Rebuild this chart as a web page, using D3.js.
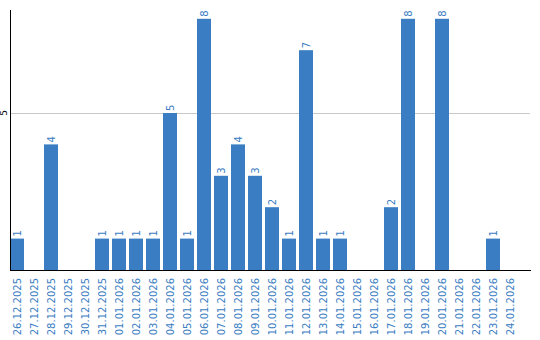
<!DOCTYPE html>
<html>
<head>
<meta charset="utf-8">
<script src="https://cdn.jsdelivr.net/npm/d3@7"></script>
<style>
  body { margin: 0; background: #fff; }
  svg { display: block; }
</style>
</head>
<body>
<svg id="chart"></svg>
<script>
const dates = ["26.12.2025", "27.12.2025", "28.12.2025", "29.12.2025", "30.12.2025", "31.12.2025",
    "01.01.2026", "02.01.2026", "03.01.2026", "04.01.2026", "05.01.2026", "06.01.2026",
    "07.01.2026", "08.01.2026", "09.01.2026", "10.01.2026", "11.01.2026", "12.01.2026",
    "13.01.2026", "14.01.2026", "15.01.2026", "16.01.2026", "17.01.2026", "18.01.2026",
    "19.01.2026", "20.01.2026", "21.01.2026", "22.01.2026", "23.01.2026", "24.01.2026"];
const counts = [1, 0, 4, 0, 0, 1, 1, 1, 1, 5, 1, 8, 3, 4, 3, 2, 1, 7, 1, 1, 0, 0, 2, 8, 0, 8, 0, 0, 1, 0];
const yTicks = [5];

const width = 540;
const height = 340;
const plotLeft = 10, plotRight = 530, plotTop = 10, plotBottom = 270;
const blue = "#3a7dc2";

const svg = d3.select("#chart")
    .attr("width", width)
    .attr("height", height)
    .style("font-family", "DejaVu Sans");

const x = d3.scaleBand()
    .domain(dates)
    .range([plotLeft, plotLeft + dates.length * 17])
    .paddingInner(3 / 17)
    .paddingOuter(1.5 / 17)
    .align(0);

const y = d3.scaleLinear()
    .domain([0, 8.28])
    .range([plotBottom, plotTop]);

const barData = counts.map((v, i) => ({ date: dates[i], v })).filter(d => d.v > 0);

// grid line at 5
svg.append("g")
    .selectAll("line")
    .data(yTicks)
    .join("line")
    .attr("x1", plotLeft)
    .attr("x2", plotRight)
    .attr("y1", d => Math.round(y(d)) + 0.5)
    .attr("y2", d => Math.round(y(d)) + 0.5)
    .attr("stroke", "#c8c8c8")
    .attr("stroke-width", 1);

svg.append("g")
    .selectAll("text")
    .data(yTicks)
    .join("text")
    .attr("transform", d => `translate(7,${y(d)}) rotate(-90)`)
    .attr("text-anchor", "middle")
    .attr("font-size", 9)
    .attr("fill", "#000")
    .text(d => d);

// bars
svg.append("g")
    .selectAll("rect")
    .data(barData)
    .join("rect")
    .attr("x", d => x(d.date))
    .attr("y", d => y(d.v))
    .attr("width", x.bandwidth())
    .attr("height", d => y(0) - y(d.v))
    .attr("fill", blue);

// value labels
svg.append("g")
    .selectAll("text")
    .data(barData)
    .join("text")
    .attr("transform", d => `translate(${x(d.date) + x.bandwidth() / 2 + 3.5},${y(d.v) - 2}) rotate(-90)`)
    .attr("font-size", 10)
    .attr("fill", blue)
    .text(d => d.v);

// axis lines
svg.append("line")
    .attr("x1", plotLeft + 0.5).attr("x2", plotLeft + 0.5)
    .attr("y1", plotTop).attr("y2", plotBottom + 1)
    .attr("stroke", "#000");
svg.append("line")
    .attr("x1", plotLeft).attr("x2", plotRight + 1)
    .attr("y1", plotBottom + 0.5).attr("y2", plotBottom + 0.5)
    .attr("stroke", "#000");

// category labels
svg.append("g")
    .selectAll("text")
    .data(dates)
    .join("text")
    .attr("transform", d => `translate(${x(d) + x.bandwidth() / 2 + 3.5},${plotBottom + 8}) rotate(-90)`)
    .attr("text-anchor", "end")
    .attr("font-size", 10)
    .attr("fill", blue)
    .text(d => d);
</script>
</body>
</html>
